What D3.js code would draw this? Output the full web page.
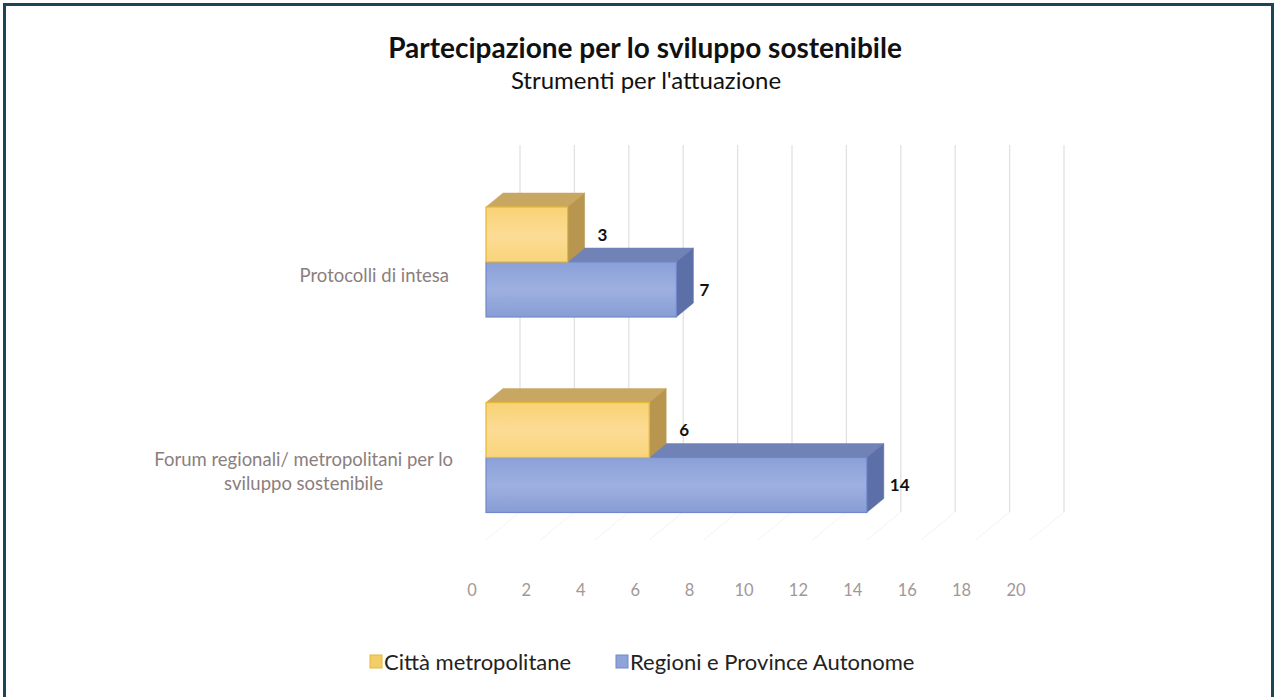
<!DOCTYPE html>
<html>
<head>
<meta charset="utf-8">
<script src="https://cdn.jsdelivr.net/npm/d3@7"></script>
<style>
  body { margin: 0; background: #ffffff; }
  svg { display: block; font-family: Lato, "Open Sans", sans-serif; }
</style>
</head>
<body>
<div id="chart"></div>
<script>
"use strict"

// chart data
var categories = ["Protocolli di intesa", "Forum regionali/ metropolitani per lo sviluppo sostenibile"]
var series_names = ["Città metropolitane", "Regioni e Province Autonome"]
var citta_values = [3, 6]
var regioni_values = [7, 14]
var x_ticks = [0, 2, 4, 6, 8, 10, 12, 14, 16, 18, 20]

var title_text = "Partecipazione per lo sviluppo sostenibile"
var subtitle_text = "Strumenti per l'attuazione"

var chart = (function () {

    var settings = {
        width: 1274,
        height: 697,
        depth_dx: 17,   // 3d offset of the bar depth
        depth_dy: -14,
        bar_h: 55
    }

    var colors = {
        citta: { front: "#fbd88a", top: "#c8a762", side: "#b8964f", stroke: "#e5b83a", key: "#f3cd68" },
        regioni: { front: "#8fa4da", top: "#7082b6", side: "#5c6fa6", stroke: "#7189cc", key: "#8ea3d9" }
    }

    var svg = d3.select("#chart").append("svg")
        .attr("width", settings.width)
        .attr("height", settings.height)

    svg.append("rect")
        .attr("width", settings.width)
        .attr("height", settings.height)
        .attr("fill", "#ffffff")

    // frame round the picture (bottom edge is cut off)
    svg.append("rect")
        .attr("x", 4.5)
        .attr("y", 4.5)
        .attr("width", 1268)
        .attr("height", 720)
        .attr("fill", "none")
        .attr("stroke", "#1c4558")
        .attr("stroke-width", 3)

    // front plane scale
    var x = d3.scaleLinear().domain([0, 20]).range([486, 1030])
    var y_cat = d3.scalePoint().domain(categories).range([262, 457.5])
    var y_ser = d3.scaleBand().domain(series_names).range([-settings.bar_h, settings.bar_h])

    var back_dx = 2 * settings.depth_dx
    var back_dy = 2 * settings.depth_dy
    var wall_top = 145
    var wall_bottom = 512

    // back wall gridlines
    svg.append("g").selectAll("line")
        .data(x_ticks)
        .enter()
        .append("line")
        .attr("x1", function (d) { return x(d) + back_dx })
        .attr("x2", function (d) { return x(d) + back_dx })
        .attr("y1", wall_top)
        .attr("y2", wall_bottom)
        .attr("stroke", "#e4e0e0")
        .attr("stroke-width", 1.3)

    // floor lines
    svg.append("g").selectAll("line")
        .data(x_ticks)
        .enter()
        .append("line")
        .attr("x1", function (d) { return x(d) + back_dx })
        .attr("x2", function (d) { return x(d) })
        .attr("y1", wall_bottom)
        .attr("y2", wall_bottom - back_dy)
        .attr("stroke", "#f5f2f2")
        .attr("stroke-width", 1)

    // x tick labels (in front of the floor)
    svg.append("g").selectAll("text")
        .data(x_ticks)
        .enter()
        .append("text")
        .attr("x", function (d) { return x(d) - 14 })
        .attr("y", 596)
        .attr("text-anchor", "middle")
        .attr("font-size", 16.5)
        .attr("fill", "#a39797")
        .text(function (d) { return d })

    function bar_data(values, name, key) {
        var out = []
        for (var i = 0; i < values.length; i++) {
            out.push({
                cat: categories[i],
                name: name,
                key: key,
                value: values[i]
            })
        }
        return out
    }

    function draw_bars(data) {
        var g = svg.append("g")
        var dx = settings.depth_dx
        var dy = settings.depth_dy
        var bh = y_ser.bandwidth()

        data.forEach(function (d) {
            var c = colors[d.key]
            var x0 = x(0)
            var x1 = x(d.value)
            var y0 = y_cat(d.cat) + y_ser(d.name)
            var y1 = y0 + bh

            // top face
            g.append("path")
                .attr("d", "M" + x0 + "," + y0 + "L" + (x0 + dx) + "," + (y0 + dy) +
                    "L" + (x1 + dx) + "," + (y0 + dy) + "L" + x1 + "," + y0 + "Z")
                .attr("fill", c.top)
                .attr("stroke", c.top)
                .attr("stroke-width", 0.5)
            // side face
            g.append("path")
                .attr("d", "M" + x1 + "," + y0 + "L" + (x1 + dx) + "," + (y0 + dy) +
                    "L" + (x1 + dx) + "," + (y1 + dy) + "L" + x1 + "," + y1 + "Z")
                .attr("fill", c.side)
                .attr("stroke", c.side)
                .attr("stroke-width", 0.5)
            // front face
            g.append("rect")
                .attr("x", x0)
                .attr("y", y0)
                .attr("width", x1 - x0)
                .attr("height", bh)
                .attr("fill", "url(#grad_" + d.key + ")")
                .attr("stroke", c.stroke)
                .attr("stroke-width", 1.2)
        })
    }

    function draw_values(data, gap) {
        svg.append("g").selectAll("text")
            .data(data)
            .enter()
            .append("text")
            .attr("x", function (d) { return x(d.value) + settings.depth_dx + gap })
            .attr("y", function (d) { return y_cat(d.cat) + y_ser(d.name) + y_ser.bandwidth() / 2 + 6 })
            .attr("font-size", 17)
            .attr("font-weight", "bold")
            .attr("fill", "#111111")
            .text(function (d) { return d.value })
    }

    // gradients for the front faces
    var defs = svg.append("defs")
    var grads = [
        { id: "grad_citta", stops: ["#f8d274", "#fcdc95", "#f9d47c"] },
        { id: "grad_regioni", stops: ["#8aa0d8", "#9eb0e0", "#879dd4"] }
    ]
    grads.forEach(function (gd) {
        var lg = defs.append("linearGradient")
            .attr("id", gd.id)
            .attr("x1", 0).attr("y1", 0).attr("x2", 0).attr("y2", 1)
        gd.stops.forEach(function (s, i) {
            lg.append("stop")
                .attr("offset", (i / (gd.stops.length - 1)) * 100 + "%")
                .attr("stop-color", s)
        })
    })

    var regioni_data = bar_data(regioni_values, series_names[1], "regioni")
    var citta_data = bar_data(citta_values, series_names[0], "citta")

    // lower series first so the upper one sits on top of it
    draw_bars(regioni_data)
    draw_bars(citta_data)
    draw_values(citta_data, 13)
    draw_values(regioni_data, 6)

    // category labels
    var cat_g = svg.append("g")
        .attr("font-size", 18.5)
        .attr("fill", "#8c7e7e")
    var label_right = 453
    var label_lines = [["Protocolli di intesa"], ["Forum regionali/ metropolitani per lo", "sviluppo sostenibile"]]

    categories.forEach(function (cat, i) {
        var lines = label_lines[i]
        var cy = y_cat(cat) + 14
        if (lines.length == 1) {
            cat_g.append("text")
                .attr("x", label_right - 4)
                .attr("y", cy + 6)
                .attr("text-anchor", "end")
                .text(lines[0])
        }
        else {
            var t = cat_g.append("text")
                .attr("text-anchor", "middle")
            var spans = []
            for (var j = 0; j < lines.length; j++) {
                spans.push(t.append("tspan")
                    .attr("y", cy + 6 + (j - (lines.length - 1) / 2) * 24)
                    .text(lines[j]))
            }
            var max_w = d3.max(spans, function (s) { return s.node().getComputedTextLength() })
            spans.forEach(function (s) { s.attr("x", label_right - max_w / 2) })
        }
    })

    // titles
    svg.append("text")
        .attr("x", 645)
        .attr("y", 58)
        .attr("text-anchor", "middle")
        .attr("font-size", 28)
        .attr("font-weight", "bold")
        .attr("fill", "#111111")
        .text(title_text)

    svg.append("text")
        .attr("x", 646)
        .attr("y", 89)
        .attr("text-anchor", "middle")
        .attr("font-size", 24)
        .attr("fill", "#111111")
        .text(subtitle_text)

    // legend
    var legend = svg.append("g")
    var legend_items = [
        { name: series_names[0], key: "citta", x: 370 },
        { name: series_names[1], key: "regioni", x: 616 }
    ]
    legend_items.forEach(function (d) {
        legend.append("rect")
            .attr("x", d.x)
            .attr("y", 655)
            .attr("width", 12)
            .attr("height", 13)
            .attr("fill", colors[d.key].key)
            .attr("stroke", colors[d.key].stroke)
            .attr("stroke-width", 1)
        legend.append("text")
            .attr("x", d.x + 14)
            .attr("y", 670)
            .attr("font-size", 22)
            .attr("fill", "#222222")
            .text(d.name)
    })

    return {
        svg: svg,
        x: x
    }

})();
</script>
</body>
</html>
